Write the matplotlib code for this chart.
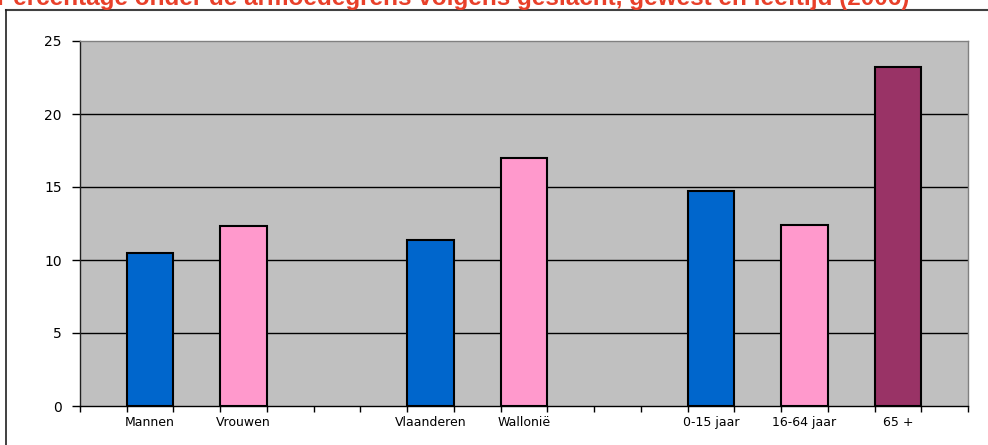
import numpy as np
import matplotlib.pyplot as plt
from matplotlib.lines import Line2D

plt.rcParams['font.family'] = ['Liberation Sans', 'DejaVu Sans']

# categorieen (lege posities zijn tussenruimtes in de grafiek)
labels = ["", "Mannen", "", "Vrouwen", "", "", "", "Vlaanderen", "", "Wallonië",
          "", "", "", "0-15 jaar", "", "16-64 jaar", "", "65 +", ""]
bar_labels = ["Mannen", "Vrouwen", "Vlaanderen", "Wallonië", "0-15 jaar", "16-64 jaar", "65 +"]
values = [10.5, 12.3, 11.4, 17.0, 14.7, 12.4, 23.2]
colors = ["#0066CC", "#FF99CC", "#0066CC", "#FF99CC", "#0066CC", "#FF99CC", "#993366"]
yticks = [0, 5, 10, 15, 20, 25]
title = "Percentage onder de armoedegrens volgens geslacht, gewest en leeftijd (2006)"

W, H = 988, 445
fig = plt.figure(figsize=(W / 100, H / 100), dpi=100)
ax = fig.add_axes([80 / W, 1 - 406 / H, 888 / W, 365 / H])
ax.set_facecolor("#C0C0C0")

pos = [labels.index(l) for l in bar_labels]
ax.bar(pos, values, width=1.0, color=colors, edgecolor="black", linewidth=1.5, zorder=3)

ax.set_xlim(-0.5, len(labels) - 0.5)
ax.set_ylim(0, 25)
ax.set_yticks(yticks)
ax.set_yticklabels([str(t) for t in yticks], fontsize=10, family="DejaVu Sans")
for t in yticks[1:-1]:
    ax.axhline(t, color="black", linewidth=1, zorder=1)

ax.set_xticks(range(len(labels)))
ax.set_xticklabels(labels, fontsize=9, family="DejaVu Sans")
ax.set_xticks(np.arange(len(labels) + 1) - 0.5, minor=True)
ax.tick_params(axis="x", which="major", length=0, pad=7)
ax.tick_params(axis="x", which="minor", length=4, width=1, color="black", direction="out")
ax.tick_params(axis="y", length=6, width=1, color="black", direction="out", pad=7)

ax.spines["top"].set_color("#808080")
ax.spines["right"].set_color("#808080")
ax.spines["left"].set_color("#202020")
ax.spines["bottom"].set_color("black")
for s in ax.spines.values():
    s.set_linewidth(1)

# buitenrand van de grafiek
fig.add_artist(Line2D([6 / W, 1], [1 - 10 / H, 1 - 10 / H], color="#404040", linewidth=1.5))
fig.add_artist(Line2D([6 / W, 6 / W], [0, 1 - 10 / H], color="#202020", linewidth=1.2))

# titel valt in het origineel deels buiten het beeld
fig.text(-3 / W, 1 - 5 / H, title, color="#E8402A", fontsize=17.5, fontweight="bold",
         ha="left", va="baseline")

plt.savefig("out.png", dpi=100)
